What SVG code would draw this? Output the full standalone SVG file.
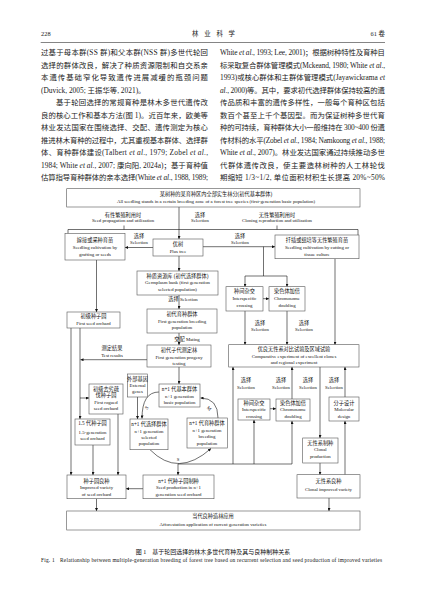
<svg xmlns="http://www.w3.org/2000/svg" width="427" height="603" viewBox="0 0 427 603">
<style>
.bt{font-family:"Liberation Serif","Noto Sans CJK SC",serif;font-size:7.4px;fill:#222}
.hd{font-family:"Liberation Serif","Noto Sans CJK SC",serif;font-size:6.4px;fill:#222}
.i{font-style:italic}
.b{fill:#fff;stroke:#555;stroke-width:0.6}
.c{font-family:"Liberation Serif","Noto Sans CJK SC",serif;font-size:5.2px;text-anchor:middle;fill:#111}
.e{font-family:"Liberation Serif",serif;font-size:4.8px;text-anchor:middle;fill:#111}
.ln{stroke:#111;stroke-width:0.6;fill:none}
.a{marker-end:url(#ah)}
.cap{font-family:"Liberation Serif","Noto Sans CJK SC",serif;font-size:6px;fill:#111;text-anchor:middle}
.cape{font-family:"Liberation Serif",serif;font-size:5.4px;fill:#111}
</style>
<defs>
<marker id="ah" viewBox="0 0 6 6" refX="6" refY="3" markerWidth="3.4" markerHeight="3" markerUnits="userSpaceOnUse" orient="auto"><path d="M0,0L6,3L0,6z" fill="#111"/></marker>
</defs>
<rect width="427" height="603" fill="#fff"/>

<g id="header">
<text class="hd" x="41" y="35.5">228</text>
<text class="hd" x="192" y="35.5" textLength="43" lengthAdjust="spacing">林业科学</text>
<text class="hd" x="385" y="35.5" text-anchor="end">61 卷</text>
<line x1="40.7" y1="42.5" x2="385" y2="42.5" stroke="#333" stroke-width="0.6"/>
</g>

<g id="body-left">
<text class="bt" x="41" y="55.4" textLength="167" lengthAdjust="spacing">过基于母本群(SS 群)和父本群(NSS 群)多世代轮回</text>
<text class="bt" x="41" y="67.9" textLength="167" lengthAdjust="spacing">选择的群体改良，解决了种质资源限制和自交系亲</text>
<text class="bt" x="41" y="80.4" textLength="167" lengthAdjust="spacing">本遗传基础窄化导致遗传进展减缓的瓶颈问题</text>
<text class="bt" x="41" y="92.9">(Duvick, 2005; 王振华等, 2021)。</text>
<text class="bt" x="56" y="105.4" textLength="152" lengthAdjust="spacing">基于轮回选择的常规育种是林木多世代遗传改</text>
<text class="bt" x="41" y="117.9" textLength="167" lengthAdjust="spacing">良的核心工作和基本方法(图 1)。近百年来，欧美等</text>
<text class="bt" x="41" y="130.4" textLength="167" lengthAdjust="spacing">林业发达国家在围绕选择、交配、遗传测定为核心</text>
<text class="bt" x="41" y="142.9" textLength="167" lengthAdjust="spacing">推进林木育种的过程中，尤其重视基本群体、选择群</text>
<text class="bt" x="41" y="155.4" textLength="167" lengthAdjust="spacing">体、育种群体建设(Talbert <tspan class="i">et al</tspan>., 1979; Zobel <tspan class="i">et al</tspan>.,</text>
<text class="bt" x="41" y="167.9" textLength="167" lengthAdjust="spacing">1984; White <tspan class="i">et al</tspan>., 2007; 康向阳, 2024a)；基于育种值</text>
<text class="bt" x="41" y="180.4" textLength="167" lengthAdjust="spacing">估算指导育种群体的亲本选择(White <tspan class="i">et al</tspan>., 1988, 1989;</text>
</g>

<g id="body-right">
<text class="bt" x="220" y="55.4" textLength="165" lengthAdjust="spacing">White <tspan class="i">et al</tspan>., 1993; Lee, 2001)；根据树种特性及育种目</text>
<text class="bt" x="220" y="67.9" textLength="165" lengthAdjust="spacing">标采取复合群体管理模式(Mckeand, 1980; White <tspan class="i">et al</tspan>.,</text>
<text class="bt" x="220" y="80.4" textLength="165" lengthAdjust="spacing">1993)或核心群体和主群体管理模式(Jayawickrama <tspan class="i">et</tspan></text>
<text class="bt" x="220" y="92.9" textLength="165" lengthAdjust="spacing"><tspan class="i">al</tspan>., 2000)等。其中，要求初代选择群体保持较高的遗</text>
<text class="bt" x="220" y="105.4" textLength="165" lengthAdjust="spacing">传品质和丰富的遗传多样性，一般每个育种区包括</text>
<text class="bt" x="220" y="117.9" textLength="165" lengthAdjust="spacing">数百个甚至上千个基因型。而为保证树种多世代育</text>
<text class="bt" x="220" y="130.4" textLength="165" lengthAdjust="spacing">种的可持续，育种群体大小一般维持在 300~400 份遗</text>
<text class="bt" x="220" y="142.9" textLength="165" lengthAdjust="spacing">传材料的水平(Zobel <tspan class="i">et al</tspan>., 1984; Namkoong <tspan class="i">et al</tspan>., 1988;</text>
<text class="bt" x="220" y="155.4" textLength="165" lengthAdjust="spacing">White <tspan class="i">et al</tspan>., 2007)。林业发达国家通过持续推动多世</text>
<text class="bt" x="220" y="167.9" textLength="165" lengthAdjust="spacing">代群体遗传改良，使主要造林树种的人工林轮伐</text>
<text class="bt" x="220" y="180.4" textLength="165" lengthAdjust="spacing">期缩短 1/3~1/2, 单位面积材积生长提高 20%~50%</text>
</g>

<g id="connectors">
<path class="ln a" d="M179,207V239"/>
<path class="ln" d="M68,233.5V229.5H358V235M124,229.5V225.5M277,229.5V225.5"/>
<path class="ln a" d="M153,247.5H125"/>
<path class="ln a" d="M203,246.7H275"/>
<path class="ln" d="M263.5,246.7V276M245,276H287"/>
<path class="ln a" d="M245,276V286.7"/>
<path class="ln a" d="M287,276V286.7"/>
<path class="ln a" d="M263,298.7H269"/>
<path class="ln a" d="M245,311V344.7"/>
<path class="ln a" d="M287,311V344.7"/>
<path class="ln a" d="M335,258.7V344.7"/>
<path class="ln a" d="M96.5,260V312"/>
<path class="ln a" d="M179,256V271"/>
<path class="ln a" d="M179,295V309"/>
<path class="ln a" d="M179,333V345"/>
<path class="ln a" d="M147,359.7H80.5"/>
<path class="ln a" d="M71,328V475"/>
<path class="ln a" d="M80,328V419"/>
<path class="ln a" d="M80,398H89"/>
<path class="ln a" d="M118,414V475"/>
<path class="ln a" d="M93,445V475"/>
<path class="ln a" d="M179,367V384"/>
<path class="ln a" d="M137.5,397V419"/>
<path class="ln a" d="M159,392Q142,392 142,418.5"/>
<path class="ln a" d="M218,418Q218,398 200.5,398"/>
<path class="ln a" d="M150,449.7Q178,478 211,448.5"/>
<path class="ln a" d="M178,464V475"/>
<path class="ln" d="M178,464H292"/>
<path class="ln a" d="M233,464V367"/>
<path class="ln a" d="M254,464V420"/>
<path class="ln a" d="M292,464V421"/>
<path class="ln a" d="M270,408.7H276"/>
<path class="ln a" d="M292,399V367"/>
<path class="ln a" d="M345,397V367"/>
<path class="ln a" d="M345,474.7V421"/>
<path class="ln a" d="M320,367V438"/>
<path class="ln a" d="M320,463V474.7"/>
<path class="ln a" d="M329,498V511"/>
<path class="ln a" d="M96.5,498.7V511"/>
<path class="ln a" d="M143,488.7H126"/>
</g>

<g id="labels">
<text class="c" x="123" y="216.5">有性繁殖利用时</text>
<text class="e" x="123" y="222.3">Seed propagation and utilization</text>
<text class="c" x="277" y="216.5">无性繁殖利用时</text>
<text class="e" x="277" y="222.3">Cloning reproduction and utilization</text>
<text class="c" x="200" y="216.5">选择</text>
<text class="e" x="200" y="222.3">Selection</text>
<text class="c" x="139" y="238">选择</text>
<text class="e" x="139" y="244">Selection</text>
<text class="c" x="240" y="238">选择</text>
<text class="e" x="240" y="244">Selection</text>
<text class="c" x="260" y="325">选择</text>
<text class="e" x="260" y="331.3">Selection</text>
<text class="c" x="304" y="325">选择</text>
<text class="e" x="304" y="331.3">Selection</text>
<text class="c" x="183" y="301" text-anchor="start">选择 <tspan font-size="4.8px">Selection</tspan></text>
<text class="c" x="187" y="341" text-anchor="start">交配 <tspan font-size="4.8px">Mating</tspan></text>
<text class="c" x="112" y="350">测定结果</text>
<text class="e" x="112" y="356.6">Test results</text>
<text class="e" x="147" y="409" transform="rotate(-50 147 408)">S</text>
<text class="e" x="209" y="410" transform="rotate(45 209 408.5)">M</text>
<text class="e" x="178" y="460.6">S</text>
<text class="c" x="246" y="382">选择</text>
<text class="e" x="246" y="388.6">Selection</text>
<text class="c" x="281" y="382">选择</text>
<text class="e" x="281" y="388.6">Selection</text>
<text class="c" x="308" y="382">选择</text>
<text class="e" x="308" y="388.6">Selection</text>
<text class="c" x="334" y="382">选择</text>
<text class="e" x="334" y="388.6">Selection</text>
</g>

<g id="n-top"><rect class="b" x="66.7" y="188.7" width="293.3" height="18.3"/>
<text class="c" x="216" y="196">某树种的某育种区内全部实生林分(初代基本群体)</text>
<text class="e" x="216" y="202.6">All seedling stands in a certain breeding zone of a forest tree species (first-generation basic population)</text></g>

<g id="n-graft"><rect class="b" x="65" y="233.5" width="60" height="26.5"/>
<text class="c" x="95" y="242">嫁接或采种育苗</text>
<text class="e" x="95" y="249.4">Seedling cultivation by</text>
<text class="e" x="95" y="255.8">grafting or seeds</text></g>

<g id="n-plus"><rect class="b" x="153" y="239" width="50" height="17"/>
<text class="c" x="178" y="246">优树</text>
<text class="e" x="178" y="252.8">Plus tree</text></g>

<g id="n-cutting"><rect class="b" x="275" y="235" width="84" height="23.7"/>
<text class="c" x="317" y="242">扦插或组培等无性繁殖育苗</text>
<text class="e" x="317" y="249.4">Seedling cultivation by cutting or</text>
<text class="e" x="317" y="255.8">tissue culture</text></g>

<g id="n-cross1"><rect class="b" x="226" y="286.7" width="37" height="24.3"/>
<text class="c" x="244.5" y="293">种间杂交</text>
<text class="e" x="244.5" y="299.8">Interspecific</text>
<text class="e" x="244.5" y="306.6">crossing</text></g>

<g id="n-double1"><rect class="b" x="269" y="286.7" width="36" height="24.3"/>
<text class="c" x="287" y="293">染色体加倍</text>
<text class="e" x="287" y="299.8">Chromosome</text>
<text class="e" x="287" y="306.6">doubling</text></g>

<g id="n-germ"><rect class="b" x="137" y="271" width="81" height="24"/>
<text class="c" x="177.5" y="277.9">种质资源库 (初代选择群体)</text>
<text class="e" x="177.5" y="284.4">Germplasm bank (first generation</text>
<text class="e" x="177.5" y="290.9">selected population)</text></g>

<g id="n-breed1"><rect class="b" x="147" y="309" width="70" height="24"/>
<text class="c" x="182" y="315.9">初代育种群体</text>
<text class="e" x="182" y="322.5">First generation breeding</text>
<text class="e" x="182" y="329.1">population</text></g>

<g id="n-seed1"><rect class="b" x="67" y="312" width="53" height="16"/>
<text class="c" x="93.5" y="318">初级种子园</text>
<text class="e" x="93.5" y="324.6">First seed orchard</text></g>

<g id="n-progeny"><rect class="b" x="147" y="345" width="64" height="22"/>
<text class="c" x="179" y="351.8">初代子代测定林</text>
<text class="e" x="179" y="358.5">First generation progeny</text>
<text class="e" x="179" y="365">testing</text></g>

<g id="n-rogued"><rect class="b" x="89" y="384" width="34" height="30"/>
<text class="c" x="106" y="390.8">初级去劣疏</text>
<text class="c" x="106" y="396.8">伐种子园</text>
<text class="e" x="106" y="403.6">First rogued</text>
<text class="e" x="106" y="410.4">seed orchard</text></g>

<g id="n-external"><rect class="b" x="127.5" y="374" width="20" height="23"/>
<text class="c" x="137.5" y="380.8">外部基因</text>
<text class="e" x="137.5" y="386.8">External</text>
<text class="e" x="137.5" y="392.8">genes</text></g>

<g id="n-basic"><rect class="b" x="159" y="384" width="41" height="23"/>
<text class="c" x="179.5" y="390.8">n+1 代基本群体</text>
<text class="e" x="179.5" y="397.6">n+1 generation</text>
<text class="e" x="179.5" y="404.4">basic population</text></g>

<g id="n-seed15"><rect class="b" x="75" y="419" width="35" height="26"/>
<text class="c" x="92.5" y="425.3">1.5 代种子园</text>
<text class="e" x="92.5" y="433.6">1.5-generation</text>
<text class="e" x="92.5" y="440.3">seed orchard</text></g>

<g id="n-selected"><rect class="b" x="130" y="419" width="38" height="30.7"/>
<text class="c" x="149" y="425.5">n+1 代选择群体</text>
<text class="e" x="149" y="432.6">n+1 generation</text>
<text class="e" x="149" y="438.8">selected</text>
<text class="e" x="149" y="445.3">population</text></g>

<g id="n-breedn"><rect class="b" x="187" y="418" width="40.3" height="30"/>
<text class="c" x="207" y="424.8">n+1 代育种群体</text>
<text class="e" x="207" y="431.6">n+1 generation</text>
<text class="e" x="207" y="438.3">breeding</text>
<text class="e" x="207" y="445">population</text></g>

<g id="n-compare"><rect class="b" x="228.7" y="344.7" width="130.3" height="22.3"/>
<text class="c" x="294" y="350.5">优良无性系对比试验及区域试验</text>
<text class="e" x="294" y="357.6">Comparative experiment of excellent clones</text>
<text class="e" x="294" y="363.8">and regional experiment</text></g>

<g id="n-cross2"><rect class="b" x="238" y="399" width="32" height="21"/>
<text class="c" x="254" y="404.8">种间杂交</text>
<text class="e" x="254" y="410.6">Interspecific</text>
<text class="e" x="254" y="417.6">crossing</text></g>

<g id="n-double2"><rect class="b" x="276" y="399" width="34" height="22"/>
<text class="c" x="293" y="404.8">染色体加倍</text>
<text class="e" x="293" y="411">Chromosome</text>
<text class="e" x="293" y="417.6">doubling</text></g>

<g id="n-molecular"><rect class="b" x="329" y="397" width="30" height="24"/>
<text class="c" x="344" y="404.8">分子设计</text>
<text class="e" x="344" y="411">Molecular</text>
<text class="e" x="344" y="417.6">design</text></g>

<g id="n-clonalprod"><rect class="b" x="302.7" y="438" width="35.3" height="25"/>
<text class="c" x="320.3" y="444.8">无性系制种</text>
<text class="e" x="320.3" y="451.3">Clonal</text>
<text class="e" x="320.3" y="457.8">production</text></g>

<g id="n-clonalvar"><rect class="b" x="297" y="474.7" width="63" height="23.3"/>
<text class="c" x="328.5" y="482.8">无性系良种</text>
<text class="e" x="328.5" y="490.6">Clonal improved variety</text></g>

<g id="n-orchardvar"><rect class="b" x="67" y="475" width="59" height="23.7"/>
<text class="c" x="96.5" y="482.5">种子园良种</text>
<text class="e" x="96.5" y="488.8">Improved variety</text>
<text class="e" x="96.5" y="495.6">of seed orchard</text></g>

<g id="n-seedprod"><rect class="b" x="143" y="475" width="71" height="23.7"/>
<text class="c" x="178.5" y="482.5">n+1 代种子园制种</text>
<text class="e" x="178.5" y="488.8">Seed production in n+1</text>
<text class="e" x="178.5" y="495.6">generation seed orchard</text></g>

<g id="n-apply"><rect class="b" x="66.7" y="511" width="293.3" height="19"/>
<text class="c" x="213" y="518.2">当代良种造林应用</text>
<text class="e" x="213" y="526.4">Afforestation application of current generation varieties</text></g>

<g id="caption">
<text class="cap" x="213" y="553.5">图 1　基于轮回选择的林木多世代育种及其与良种制种关系</text>
<text class="cape" x="41" y="561.5" textLength="341" lengthAdjust="spacing">Fig. 1　Relationship between multiple-generation breeding of forest tree based on recurrent selection and seed production of improved varieties</text>
</g>
</svg>
